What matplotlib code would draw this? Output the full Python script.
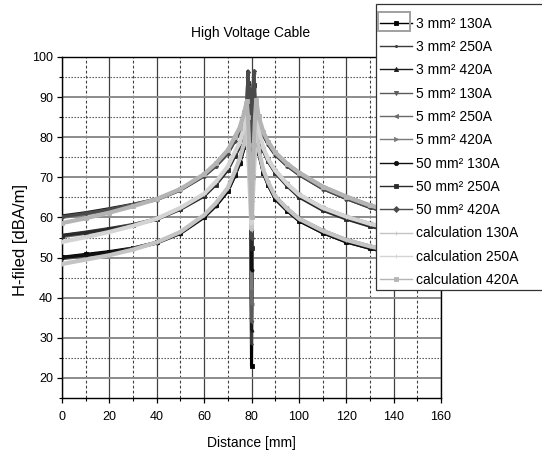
import matplotlib
matplotlib.use("Agg")
import matplotlib.pyplot as plt
from matplotlib.ticker import MultipleLocator
from matplotlib.patches import Rectangle

plt.rcParams['font.family'] = ['Liberation Sans', 'DejaVu Sans']

# ---- data ----
distance = [0, 10, 20, 30, 40, 50, 60, 65, 70, 73, 75, 77, 78, 78.5, 79, 79.5, 80, 80.5, 81, 81.5, 82, 83, 85, 87, 90, 95, 100, 110, 120, 130, 140, 150, 160]

s3_130 = [50.1, 50.8, 51.5, 52.4, 53.8, 56.2, 60.2, 63.0, 66.6, 70.5, 73.6, 77.6, 80.6, 87.5, 80.0, 84.0, 23.0, 82.0, 87.0, 81.0, 80.5, 76.0, 71.0, 68.1, 64.6, 61.7, 59.2, 56.2, 53.9, 52.3, 51.0, 50.0, 49.3]
s3_250 = [55.6, 56.4, 57.3, 58.3, 59.7, 62.2, 65.5, 68.3, 71.9, 75.4, 77.6, 81.6, 84.6, 92.0, 84.0, 88.0, 28.5, 86.0, 91.5, 85.0, 85.0, 81.0, 76.5, 73.9, 71.1, 67.9, 65.2, 61.9, 59.7, 57.9, 56.5, 55.5, 54.7]
s3_420 = [60.4, 61.2, 62.2, 63.3, 64.6, 66.9, 70.4, 72.9, 76.0, 79.2, 81.4, 85.1, 87.6, 96.5, 86.0, 91.0, 32.0, 89.0, 96.2, 88.0, 88.0, 84.2, 80.5, 78.2, 75.6, 72.9, 70.7, 67.2, 64.7, 62.5, 60.9, 59.9, 59.2]
s5_130 = [49.7, 50.4, 51.2, 52.3, 53.8, 56.3, 60.4, 63.3, 67.0, 71.0, 74.0, 78.0, 81.0, 88.5, 81.0, 85.0, 34.0, 83.0, 88.0, 82.0, 81.2, 76.8, 71.8, 68.8, 65.3, 62.3, 59.8, 56.8, 54.5, 52.9, 51.6, 50.6, 49.9]
s5_250 = [55.2, 56.0, 57.0, 58.2, 59.7, 62.3, 65.7, 68.6, 72.3, 75.8, 78.0, 82.0, 85.0, 92.8, 85.0, 89.0, 38.5, 87.0, 92.3, 86.0, 85.8, 81.8, 77.3, 74.6, 71.8, 68.5, 65.8, 62.5, 60.3, 58.5, 57.1, 56.1, 55.3]
s5_420 = [60.0, 60.8, 61.9, 63.2, 64.6, 67.0, 70.6, 73.2, 76.4, 79.6, 81.8, 85.5, 88.0, 95.5, 88.5, 93.0, 42.5, 91.0, 95.8, 90.0, 88.8, 85.0, 81.3, 78.9, 76.3, 73.5, 71.3, 67.8, 65.3, 63.1, 61.5, 60.5, 59.8]
s50_130 = [50.0, 50.6, 51.3, 52.2, 53.6, 56.0, 60.0, 62.9, 66.5, 70.4, 73.4, 77.5, 80.5, 89.0, 80.5, 84.5, 47.0, 82.5, 88.5, 81.5, 80.6, 76.2, 71.2, 68.2, 64.7, 61.7, 59.2, 56.2, 53.9, 52.3, 51.0, 50.0, 49.3]
s50_250 = [55.5, 56.2, 57.1, 58.1, 59.5, 62.0, 65.3, 68.2, 71.8, 75.3, 77.5, 81.5, 84.5, 93.5, 84.5, 88.5, 52.5, 86.5, 93.0, 85.5, 85.2, 81.2, 76.7, 74.0, 71.2, 67.9, 65.1, 61.8, 59.6, 57.8, 56.4, 55.4, 54.6]
s50_420 = [60.2, 61.0, 62.0, 63.1, 64.4, 66.8, 70.3, 72.8, 75.9, 79.1, 81.3, 85.0, 87.5, 96.2, 87.0, 92.0, 55.0, 90.0, 96.5, 89.0, 88.2, 84.4, 80.7, 78.3, 75.7, 72.9, 70.7, 67.2, 64.7, 62.5, 60.9, 59.9, 59.2]
calc_130 = [48.4, 49.5, 50.6, 52.0, 53.8, 56.4, 60.6, 63.6, 67.4, 71.5, 74.6, 78.8, 82.0, 77.0, 71.0, 64.0, 57.0, 64.0, 71.0, 77.0, 81.8, 77.0, 71.8, 68.8, 65.3, 62.2, 59.7, 56.7, 54.4, 52.8, 51.5, 50.5, 49.8]
calc_250 = [53.9, 55.1, 56.4, 57.9, 59.7, 62.4, 65.9, 68.9, 72.7, 76.3, 78.6, 82.8, 86.0, 81.0, 75.0, 67.0, 58.5, 67.0, 75.0, 81.0, 86.3, 82.0, 77.3, 74.5, 71.7, 68.4, 65.7, 62.4, 60.2, 58.4, 57.0, 56.0, 55.2]
calc_420 = [58.6, 59.8, 61.2, 62.8, 64.6, 67.1, 70.8, 73.5, 76.8, 80.1, 82.4, 86.3, 89.0, 85.0, 78.0, 70.0, 60.0, 70.0, 78.0, 85.0, 89.3, 85.2, 81.3, 78.9, 76.2, 73.4, 71.2, 67.7, 65.2, 63.0, 61.4, 60.4, 59.7]

labels = ['3 mm² 130A', '3 mm² 250A', '3 mm² 420A',
          '5 mm² 130A', '5 mm² 250A', '5 mm² 420A',
          '50 mm² 130A', '50 mm² 250A', '50 mm² 420A',
          'calculation 130A', 'calculation 250A', 'calculation 420A']
series = [s3_130, s3_250, s3_420, s5_130, s5_250, s5_420,
          s50_130, s50_250, s50_420, calc_130, calc_250, calc_420]

colors = ['#000000', '#3a3a3a', '#1a1a1a', '#5a5a5a', '#6a6a6a', '#7a7a7a',
          '#101010', '#2a2a2a', '#4a4a4a', '#c4c4c4', '#d4d4d4', '#b4b4b4']
markers = ['s', '.', '^', 'v', '<', '>', 'o', 's', 'D', '+', '+', 's']
widths = [2.2, 2.0, 2.2, 2.2, 2.2, 2.2, 2.2, 2.2, 2.2, 3.0, 3.0, 3.0]

fig = plt.figure(figsize=(5.42, 4.57), dpi=100)
ax = fig.add_axes([62/542, 1-398/457, (441-62)/542, (398-57)/457])

for y, lab, c, m, w in zip(series, labels, colors, markers, widths):
    ax.plot(distance, y, color=c, lw=w, marker=m, ms=2.2, mew=0.6, label=lab, zorder=3)

ax.set_xlim(0, 160)
ax.set_ylim(15, 100)
ax.xaxis.set_major_locator(MultipleLocator(20))
ax.xaxis.set_minor_locator(MultipleLocator(10))
ax.yaxis.set_major_locator(MultipleLocator(10))
ax.yaxis.set_minor_locator(MultipleLocator(5))
ax.set_yticks(range(20, 101, 10))

# grid
ax.grid(which='major', axis='y', color='#8c8c8c', lw=1.4, ls='-', zorder=0)
ax.grid(which='minor', axis='y', color='#404040', lw=0.8, ls=(0, (1.2, 1.5)), zorder=0)
ax.grid(which='major', axis='x', color='#404040', lw=0.9, ls='-', zorder=0)
ax.grid(which='minor', axis='x', color='#404040', lw=0.8, ls=(0, (2.5, 2)), zorder=0)
ax.set_axisbelow(True)

ax.tick_params(which='major', direction='out', length=3.5, width=0.9, labelsize=9, color='black')
ax.tick_params(which='minor', direction='out', length=2, width=0.8)
ax.tick_params(axis='x', pad=5.5)
ax.tick_params(axis='y', pad=3)
for sp in ax.spines.values():
    sp.set_linewidth(1.0)
    sp.set_color('black')

fig.text(251/542, 1-33/457, 'High Voltage Cable', ha='center', va='center', fontsize=10)
fig.text(251/542, 1-443/457, 'Distance [mm]', ha='center', va='center', fontsize=10)
fig.text(21/542, 1-240/457, 'H-filed [dBA/m]', ha='center', va='center', rotation=90, fontsize=12)

# legend frame (extends past the right edge of the figure, as in the original)
fig.patches.append(Rectangle((376/542, 1-290/457), 200/542, 286/457, transform=fig.transFigure,
                             facecolor='white', edgecolor='#333333', lw=0.9, zorder=4))

handles, labs = ax.get_legend_handles_labels()
leg = fig.legend(handles, labs, loc='upper left', bbox_to_anchor=(376/542, 1-12.5/457),
                 fontsize=10, frameon=False,
                 handlelength=2.3, handletextpad=0.3, borderpad=0.3, labelspacing=0.67,
                 borderaxespad=0.0)
leg.set_zorder(6)
for ln in leg.get_lines():
    ln.set_linewidth(1.0)
    ln.set_markersize(3)

# selection box drawn around the first legend handle in the original
fig.patches.append(Rectangle((378/542, 1-31/457), 32/542, 19/457, transform=fig.transFigure,
                             fill=False, edgecolor='#a0a0a0', lw=1.4, zorder=7))

fig.savefig('out.png', dpi=100)
